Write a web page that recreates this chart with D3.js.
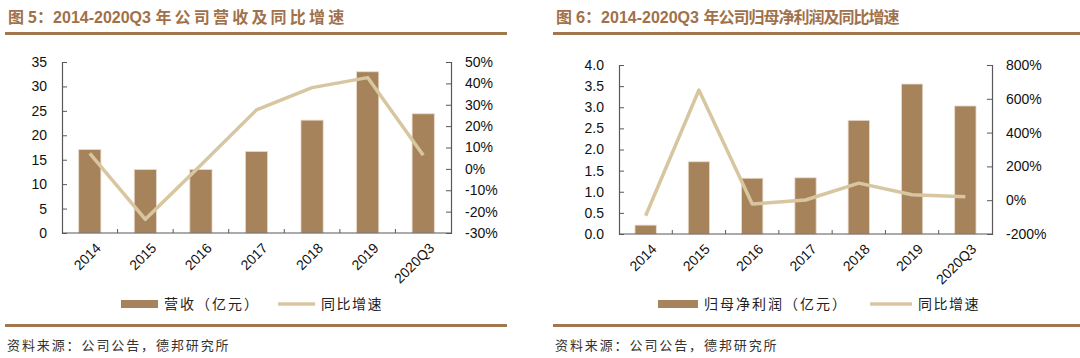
<!DOCTYPE html>
<html><head><meta charset="utf-8">
<script src="https://cdn.jsdelivr.net/npm/d3@7"></script>
<style>
body{margin:0;background:#fff;}
svg{display:block;}
text{font-family:"Liberation Sans",Arial,sans-serif;}
.cjk{font-family:"Noto Sans CJK SC",sans-serif;}
</style></head>
<body><svg id="c" width="1080" height="358"></svg>
<script>
const categories = ["2014","2015","2016","2017","2018","2019","2020Q3"];
const revenue = [17.1, 13.0, 13.0, 16.7, 23.1, 33.0, 24.4];
const revenueGrowth = [7.2, -23.6, 1.8, 27.6, 38.0, 42.7, 6.4];
const profit = [0.21, 1.71, 1.32, 1.33, 2.69, 3.55, 3.03];
const profitGrowth = [-92, 652, -23, 1, 101, 32, 20];
const leftTicks1 = [0,5,10,15,20,25,30,35];
const rightTicks1 = [-30,-20,-10,0,10,20,30,40,50];
const leftTicks2 = [0,0.5,1.0,1.5,2.0,2.5,3.0,3.5,4.0];
const rightTicks2 = [-200,0,200,400,600,800];

const svg = d3.select("#c");
const barColor = "#a6835b", lineColor = "#d8c6a0", brown = "#a3774e", axisColor = "#595959";

function panel(o){
  const g = svg.append("g");
  const t = g.append("text").attr("x", o.px+8).attr("y", 23).attr("class","cjk")
    .attr("font-size", 16).attr("font-weight","bold").attr("fill", "#a0714a");
  t.append("tspan").text(o.titleA);
  t.append("tspan").attr("font-family","Liberation Sans, Arial, sans-serif").text(o.titleB);
  t.append("tspan").attr("letter-spacing", o.tls).text(o.titleC);
  g.append("rect").attr("x", o.px+5).attr("y", 32).attr("width", o.pw).attr("height", 3).attr("fill", brown);
  g.append("rect").attr("x", o.px+5).attr("y", 324).attr("width", o.pw).attr("height", 3).attr("fill", brown);
  g.append("text").attr("x", o.px+7).attr("y", 350).attr("class","cjk").attr("font-size", 13)
    .attr("letter-spacing", 1.9).attr("fill","#333").text("资料来源：公司公告，德邦研究所");

  const xb = d3.scaleBand().domain(categories).range([o.x0, o.x1]);
  const yL = d3.scaleLinear().domain(o.yLd).range([o.yb, o.yt]);
  const yR = d3.scaleLinear().domain(o.yRd).range([o.yb, o.yt]);

  g.selectAll(".bar").data(o.bars).enter().append("rect")
    .attr("x", (d,i)=>xb(categories[i]) + xb.bandwidth()*0.3)
    .attr("width", xb.bandwidth()*0.4)
    .attr("y", d=>yL(d)).attr("height", d=>o.yb - yL(d))
    .attr("fill", barColor).attr("stroke","#e9dccb").attr("stroke-width",0.8);

  const axL = g.append("g").attr("transform",`translate(${o.x0},0)`)
    .call(d3.axisLeft(yL).tickValues(o.lt).tickSize(-5).tickPadding(15).tickFormat(o.lf));
  const axR = g.append("g").attr("transform",`translate(${o.x1},0)`)
    .call(d3.axisRight(yR).tickValues(o.rt).tickSize(-5).tickPadding(14).tickFormat(d=>d+"%"));
  const axB = g.append("g").attr("transform",`translate(0,${o.yb})`)
    .call(d3.axisBottom(xb).tickSize(-4).tickFormat(""));
  axB.selectAll(".tick").remove();
  categories.forEach((c,i)=>{
    if(i>0) axB.append("line").attr("x1", xb(c)).attr("x2", xb(c)).attr("y1",0).attr("y2",-4).attr("stroke",axisColor);
  });
  [axL,axR,axB].forEach(a=>{
    a.select(".domain").attr("stroke",axisColor).attr("stroke-width",1.2);
    a.selectAll(".tick line").attr("stroke",axisColor);
    a.selectAll(".tick text").attr("font-size",14).attr("fill","#111").attr("font-family","Liberation Sans, Arial, sans-serif");
  });
  axB.select(".domain").attr("d", `M${o.x0},0H${o.x1}`);

  g.selectAll(".xl").data(categories).enter().append("text")
    .attr("transform", d=>`translate(${xb(d)+xb.bandwidth()/2+5},${o.yb+9}) rotate(-45)`)
    .attr("text-anchor","end").attr("dy","0.7em").attr("font-size",14).attr("fill","#111").text(d=>d);

  const line = d3.line().x((d,i)=>xb(categories[i])+xb.bandwidth()/2).y(d=>yR(d));
  g.append("path").datum(o.line).attr("d", line).attr("fill","none")
    .attr("stroke", lineColor).attr("stroke-width",3.5).attr("stroke-linejoin","round");

  g.append("rect").attr("x", o.lg[0]).attr("y", 300).attr("width", o.lg[1]-o.lg[0]).attr("height", 8).attr("fill", barColor);
  g.append("text").attr("x", o.lg[1]+6).attr("y", 309).attr("class","cjk").attr("font-size",14)
    .attr("letter-spacing",2).attr("fill","#222").text(o.barName);
  g.append("line").attr("x1", o.lg[2]).attr("x2", o.lg[3]).attr("y1",304).attr("y2",304).attr("stroke",lineColor).attr("stroke-width",3.5);
  g.append("text").attr("x", o.lg[3]+6).attr("y", 309).attr("class","cjk").attr("font-size",14)
    .attr("letter-spacing",1.5).attr("fill","#222").text("同比增速");
}

panel({px:0, pw:502, titleA:"图 5：", titleB:"2014-2020Q3 ", titleC:"年公司营收及同比增速", tls:3.2,
  x0:62, x1:451, yt:62, yb:233, yLd:[0,35], yRd:[-30,50],
  lt:leftTicks1, rt:rightTicks1, lf:d=>d, bars:revenue, line:revenueGrowth,
  barName:"营收（亿元）", lg:[121,158,278,315]});
panel({px:548, pw:527, titleA:"图 6：", titleB:"2014-2020Q3 ", titleC:"年公司归母净利润及同比增速", tls:-1,
  x0:619, x1:992, yt:65, yb:234, yLd:[0,4], yRd:[-200,800],
  lt:leftTicks2, rt:rightTicks2, lf:d3.format(".1f"), bars:profit, line:profitGrowth,
  barName:"归母净利润（亿元）", lg:[658,698,870,912]});
</script></body></html>
